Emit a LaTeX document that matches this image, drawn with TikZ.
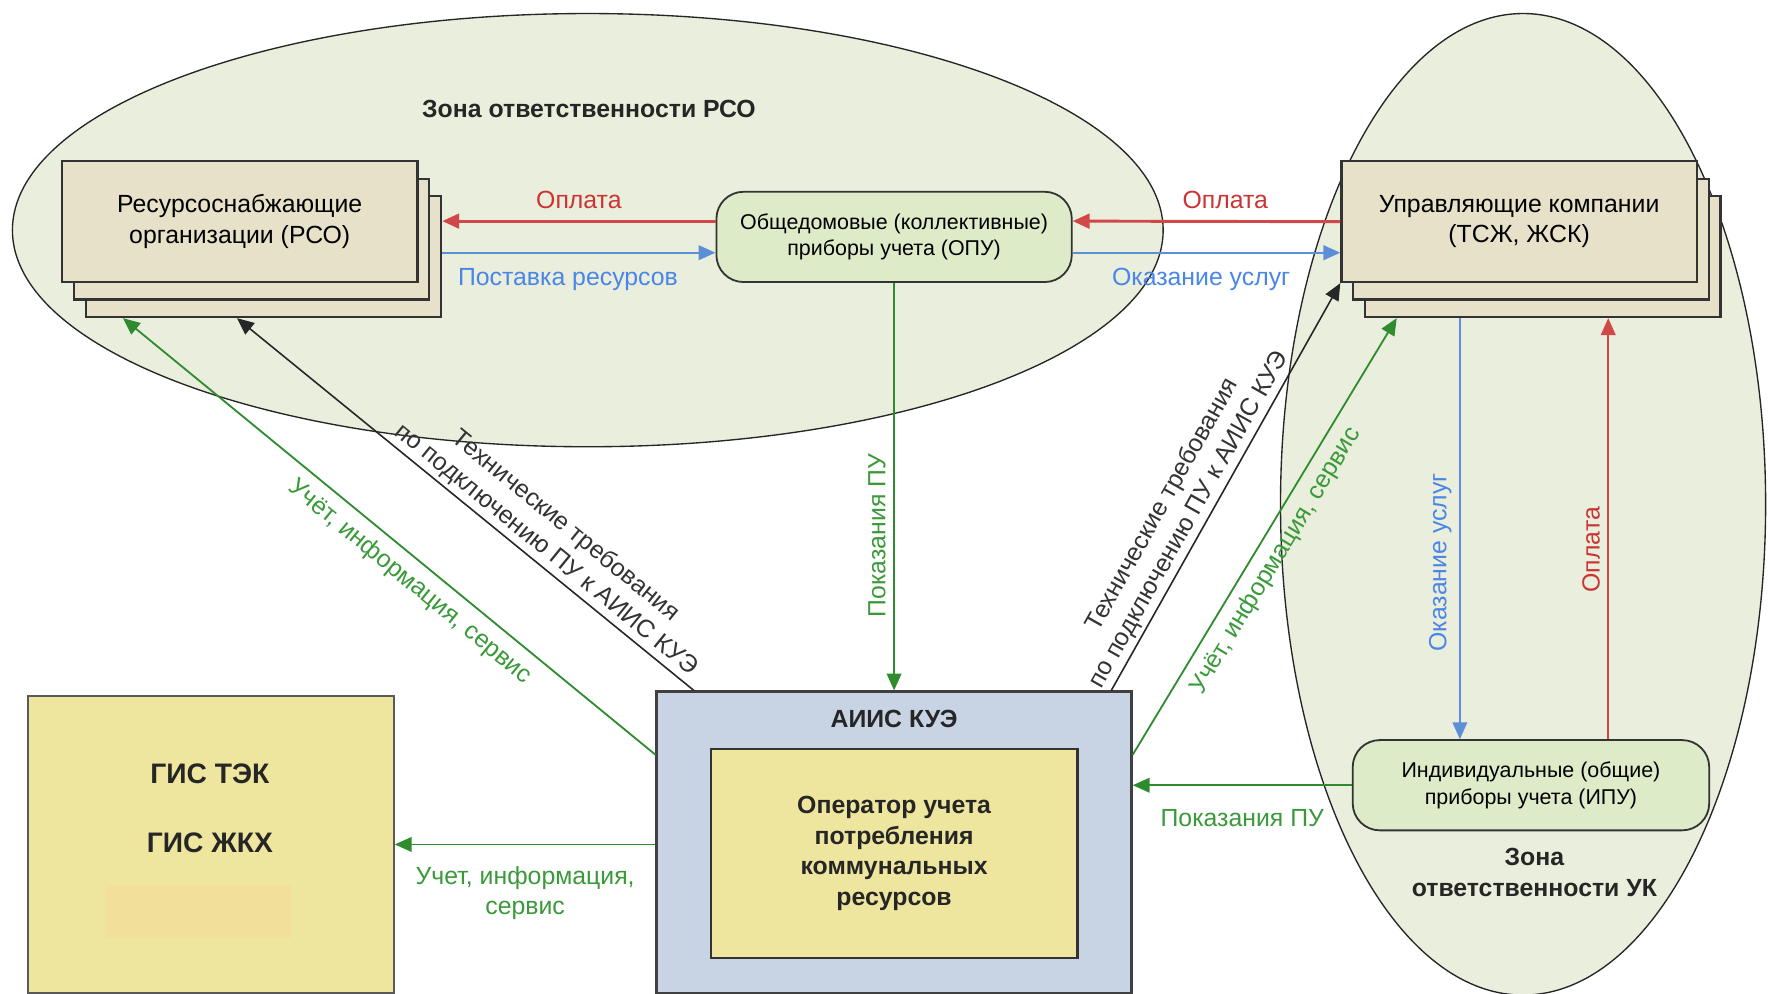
\documentclass[tikz,border=0pt]{standalone}
\usepackage{fontspec}
\setmainfont{Liberation Sans}
\usetikzlibrary{arrows.meta,shapes.geometric}
\definecolor{zone}{HTML}{EAEEDC}
\definecolor{beige}{HTML}{E6E1C8}
\definecolor{meter}{HTML}{DDEBC8}
\definecolor{aiisbg}{HTML}{C8D4E4}
\definecolor{yel}{HTML}{EEE69E}
\definecolor{faint}{HTML}{F2DF9A}
\definecolor{cred}{HTML}{CC3333}
\definecolor{lred}{HTML}{D04848}
\definecolor{cblue}{HTML}{4A86E8}
\definecolor{lblue}{HTML}{5B8FD6}
\definecolor{cgreen}{HTML}{2E8B2E}
\definecolor{tgreen}{HTML}{3A9A3A}
\definecolor{bord}{HTML}{333333}
\begin{document}
\begin{tikzpicture}[x=0.5pt,y=-0.5pt,
  every node/.style={font=\fontsize{11}{13.5}\selectfont},
  zonebox/.style={ellipse,draw=black!85,line width=0.6pt,fill=zone,inner sep=0pt},
  org/.style={draw=bord,line width=1pt,fill=beige,minimum width=157.5pt,minimum height=53.5pt,inner sep=0pt,align=center},
  meterbox/.style={draw=bord,line width=0.8pt,fill=meter,rounded corners=12pt,minimum width=157.5pt,minimum height=40pt,inner sep=0pt,align=center,font=\fontsize{9.5}{11.8}\selectfont},
  title/.style={font=\bfseries\fontsize{11}{13.5}\selectfont,align=center,text=black!85},
  arrowtip/.style={-{Triangle[length=7.5pt,width=6.5pt]}},
  redarr/.style={arrowtip,draw=lred,line width=1.3pt},
  bluearr/.style={arrowtip,draw=lblue,line width=0.9pt},
  greenarr/.style={arrowtip,draw=cgreen,line width=0.8pt},
  blackarr/.style={arrowtip,draw=black!85,line width=0.7pt},
  rlbl/.style={text=cred},
  blbl/.style={text=cblue},
  glbl/.style={text=tgreen},
  klbl/.style={text=black!80,align=center,inner sep=1.5pt},
  vlbl/.style={rotate=90,anchor=south}
]
\useasboundingbox (0,0) rectangle (1568,881);
\fill[white] (0,0) rectangle (1568,881);

% zones
\node[zonebox,minimum width=510pt,minimum height=192pt] (zonerso) at (521,204) {};
\node[zonebox,minimum width=215pt,minimum height=435pt] (zoneuk) at (1350,447) {};
\node[title] (zrsotitle) at (522,97) {Зона ответственности РСО};
\node[title] (zuktitle) at (1360,773.5) {Зона\\ответственности УК};

% RSO stack
\node[org] (rso3) at (233.5,227.5) {};
\node[org] (rso2) at (223,212) {};
\node[org] (rso) at (212.5,196.5) {Ресурсоснабжающие\\организации (РСО)};

% UK stack
\node[org] (uk3) at (1367.5,227.5) {};
\node[org] (uk2) at (1357,212) {};
\node[org] (uk) at (1346.5,196.5) {Управляющие компании\\(ТСЖ, ЖСК)};

% meters
\node[meterbox] (opu) at (792.5,210) {Общедомовые (коллективные)\\приборы учета (ОПУ)};
\node[meterbox,minimum width=158pt] (ipu) at (1357,696) {Индивидуальные (общие)\\приборы учета (ИПУ)};

% AIIS
\node[draw=black!75,line width=1pt,fill=aiisbg,minimum width=210.5pt,minimum height=133.5pt,inner sep=0pt] (aiis) at (792.5,746.5) {};
\node[title] (aiislbl) at (792.5,637) {АИИС КУЭ};
\node[draw=bord,line width=1pt,fill=yel,minimum width=162.5pt,minimum height=92.5pt,inner sep=0pt,align=center,font=\bfseries\fontsize{11}{13.5}\selectfont,text=black!85] (oper) at (792.5,756.5) {Оператор учета\\потребления\\коммунальных\\ресурсов};

% GIS
\node[draw=black!65,line width=0.9pt,fill=yel,minimum width=162pt,minimum height=131.5pt,inner sep=0pt] (gis) at (187,748.5) {};
\node[fill=faint,minimum width=82pt,minimum height=23.5pt,inner sep=0pt] (gisfaint) at (176,807.5) {};
\node[font=\bfseries\fontsize{12.5}{15}\selectfont,text=black!85] (gistek) at (186,686) {ГИС ТЭК};
\node[font=\bfseries\fontsize{12.5}{15}\selectfont,text=black!85] (gisjkh) at (186,747) {ГИС ЖКХ};

% RSO <-> OPU
\draw[redarr] ([yshift=7pt]opu.west) -- ([yshift=15.75pt]rso3.east)
  node[midway,above=1.5pt,rlbl] {Оплата};
\draw[bluearr] ([yshift=1.75pt]rso3.east) -- ([yshift=-7pt]opu.west)
  node[pos=0.46,below=3pt,blbl] {Поставка ресурсов};
% UK <-> OPU
\draw[redarr] (uk.west) -- ([yshift=7pt]opu.east)
  node[pos=0.43,above=1.5pt,rlbl] {Оплата};
\draw[bluearr] ([yshift=-7pt]opu.east) -- ([yshift=-13.75pt]uk.west)
  node[pos=0.48,below=3pt,blbl] {Оказание услуг};

% OPU -> AIIS
\draw[greenarr] (opu.south) -- (aiis.north)
  node[pos=0.62,vlbl,glbl] {Показания ПУ};
% IPU -> AIIS
\draw[greenarr] (ipu.west) -- ([yshift=25.25pt]aiis.east)
  node[midway,below=7pt,glbl] {Показания ПУ};
% AIIS -> GIS
\draw[greenarr] ([yshift=-1pt]aiis.west) -- (gis.east)
  node[midway,below=6pt,glbl,align=center] {Учет, информация,\\сервис};

% UK <-> IPU
\draw[bluearr,line width=0.8pt] ([xshift=-36.75pt]uk3.south) -- ([xshift=-31.5pt]ipu.north)
  node[pos=0.58,vlbl,blbl] {Оказание услуг};
\draw[redarr,line width=0.8pt] ([xshift=34.25pt]ipu.north) -- ([xshift=29pt]uk3.south)
  node[pos=0.45,vlbl,rlbl] {Оплата};

% diagonals
\draw[greenarr] ([yshift=38.75pt]aiis.west) -- ([xshift=-62.25pt]rso3.south)
  node[pos=0.435,sloped,below=1pt,glbl] {Учёт, информация, сервис};
\draw[blackarr] ([xshift=-88.75pt]aiis.north) -- ([xshift=-11.75pt]rso3.south)
  node[pos=0.345,sloped,above,klbl] {Технические требования\\по подключению ПУ к АИИС КУЭ};
\draw[blackarr] ([xshift=96.25pt]aiis.north) -- (uk.south west)
  node[pos=0.40,sloped,above,klbl] {Технические требования\\по подключению ПУ к АИИС КУЭ};
\draw[greenarr] ([yshift=38.75pt]aiis.east) -- ([xshift=-64.75pt]uk3.south)
  node[pos=0.47,sloped,below=1pt,glbl] {Учёт, информация, сервис};
\end{tikzpicture}
\end{document}
